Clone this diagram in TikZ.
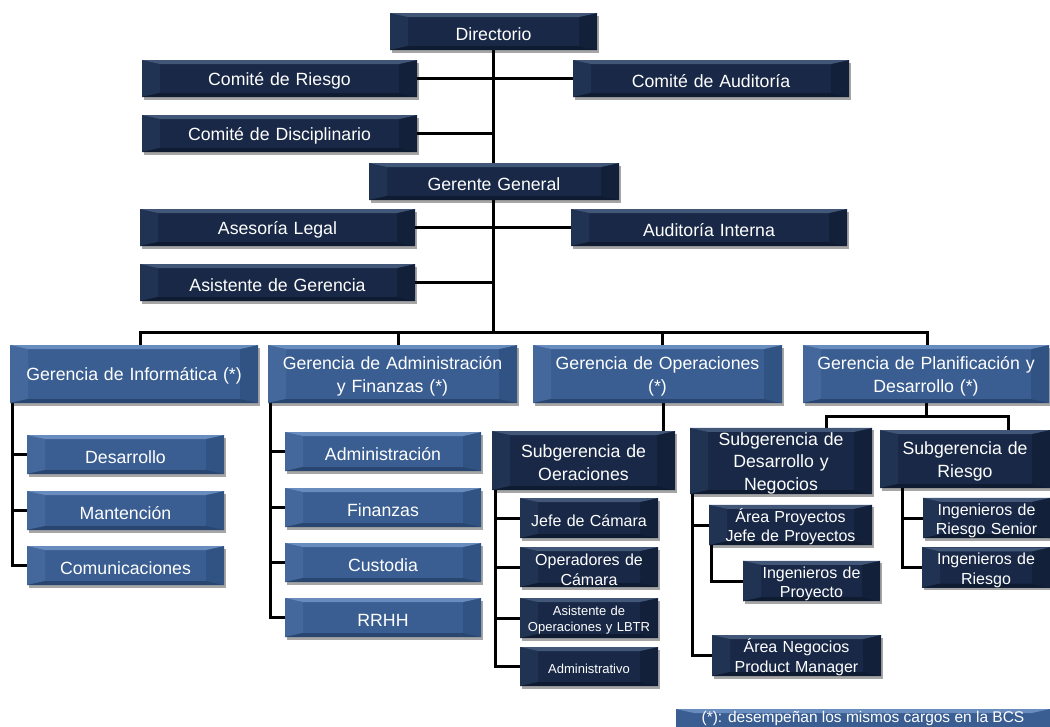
\documentclass[tikz,border=0pt]{standalone}
\usepackage{fontspec}
\setmainfont{Liberation Sans}
\usetikzlibrary{shadows}
\pgfdeclarelayer{background}
\pgfsetlayers{background,main}
\definecolor{navy}{RGB}{24,40,70}
\definecolor{navyT}{RGB}{66,86,120}
\definecolor{navyL}{RGB}{33,51,82}
\definecolor{navyR}{RGB}{18,32,57}
\definecolor{navyB}{RGB}{15,27,48}
\definecolor{mblue}{RGB}{58,94,145}
\definecolor{mblueT}{RGB}{104,140,190}
\definecolor{mblueL}{RGB}{68,104,155}
\definecolor{mblueR}{RGB}{49,83,131}
\definecolor{mblueB}{RGB}{40,70,112}
\tikzset{
  bevel/.style n args={5}{fill=#1, path picture={
    \fill[#3] (path picture bounding box.north west) -- ([xshift=18pt,yshift=-4pt]path picture bounding box.north west)
       -- ([xshift=18pt,yshift=4pt]path picture bounding box.south west) -- (path picture bounding box.south west) -- cycle;
    \fill[#4] (path picture bounding box.north east) -- ([xshift=-18pt,yshift=-4pt]path picture bounding box.north east)
       -- ([xshift=-18pt,yshift=4pt]path picture bounding box.south east) -- (path picture bounding box.south east) -- cycle;
    \fill[#2] (path picture bounding box.north west) -- (path picture bounding box.north east)
       -- ([xshift=-18pt,yshift=-4pt]path picture bounding box.north east) -- ([xshift=18pt,yshift=-4pt]path picture bounding box.north west) -- cycle;
    \fill[#5] (path picture bounding box.south west) -- (path picture bounding box.south east)
       -- ([xshift=-18pt,yshift=4pt]path picture bounding box.south east) -- ([xshift=18pt,yshift=4pt]path picture bounding box.south west) -- cycle;
  }},
  boxbase/.style={inner sep=0pt, align=center, text=white, font=\fontsize{17.7}{22.5}\selectfont,
    text height=17.5pt,
    drop shadow={shadow xshift=1.5pt, shadow yshift=-2.5pt, opacity=0.35, fill=black}},
  dk/.style={boxbase, bevel={navy}{navyT}{navyL}{navyR}{navyB}},
  md/.style={boxbase, bevel={mblue}{mblueT}{mblueL}{mblueR}{mblueB}},
  sz/.style 2 args={minimum width=#1pt, minimum height=#2pt, text width=#1pt},
  subfont/.style={font=\fontsize{16}{19.5}\selectfont, text height=17.5pt},
  tinyfont/.style={font=\fontsize{13}{16}\selectfont, text height=14.5pt},
  conn/.style={draw=black, line width=3pt}
}
\begin{document}
\begin{tikzpicture}[x=1pt,y=-1pt]
\useasboundingbox (0,0) rectangle (1050,726);
% top levels
\node[dk, sz={207}{37}] (dir) at (493.5,31.5) {Directorio};
\node[dk, sz={275}{37}] (cr) at (279.5,78.5) {Comité de Riesgo};
\node[dk, sz={276}{37}] (ca) at (711,78.5) {Comité de Auditoría};
\node[dk, sz={275}{37}] (cd) at (279.5,133.5) {Comité de Disciplinario};
\node[dk, sz={250}{37}] (gg) at (494,181.5) {Gerente General};
\node[dk, sz={275}{37}] (al) at (277.5,227.5) {Asesoría Legal};
\node[dk, sz={276}{37}] (ai) at (709,227.5) {Auditoría Interna};
\node[dk, sz={275}{37}] (ag) at (277.5,282.5) {Asistente de Gerencia};
% gerencias
\node[md, sz={248}{58}] (gi) at (134,374) {Gerencia de Informática (*)};
\node[md, sz={249}{58}] (ga) at (392.5,374) {Gerencia de Administración\\y Finanzas (*)};
\node[md, sz={249}{58}] (go) at (657.5,374) {Gerencia de Operaciones\\(*)};
\node[md, sz={246}{58}] (gp) at (926,374) {Gerencia de Planificación y\\Desarrollo (*)};
% informatica
\node[md, sz={197}{39}] (d1) at (125.5,454.5) {Desarrollo};
\node[md, sz={197}{39}] (d2) at (125.5,510.5) {Mantención};
\node[md, sz={197}{39}] (d3) at (125.5,565.5) {Comunicaciones};
% administracion
\node[md, sz={196}{39}] (a1) at (383,451.5) {Administración};
\node[md, sz={196}{39}] (a2) at (383,507.5) {Finanzas};
\node[md, sz={196}{39}] (a3) at (383,562.5) {Custodia};
\node[md, sz={196}{39}] (a4) at (383,617.5) {RRHH};
% operaciones
\node[dk, sz={183}{59}] (so) at (583.5,460.5) {Subgerencia de\\Oeraciones};
\node[dk, subfont, sz={138}{40}] (o1) at (589,518) {Jefe de Cámara};
\node[dk, subfont, sz={138}{40}] (o2) at (589,567) {Operadores de\\Cámara};
\node[dk, tinyfont, sz={138}{40}] (o3) at (589,618) {Asistente de\\Operaciones y LBTR};
\node[dk, tinyfont, sz={138}{39}] (o4) at (589,666.5) {Administrativo};
% planificacion
\node[dk, sz={182}{60}] (sd) at (781,461) {Subgerencia de\\Desarrollo y\\Negocios};
\node[dk, sz={170}{58}] (sr) at (965,459) {Subgerencia de\\Riesgo};
\node[dk, subfont, sz={163}{40}] (p1) at (790.5,525) {Área Proyectos\\Jefe de Proyectos};
\node[dk, subfont, sz={137}{40}] (p2) at (811.5,581) {Ingenieros de\\Proyecto};
\node[dk, subfont, sz={169}{41}] (p3) at (796.5,655.5) {Área Negocios\\Product Manager};
\node[dk, subfont, sz={127}{40}] (r1) at (986.5,518) {Ingenieros de\\Riesgo Senior};
\node[dk, subfont, sz={128}{39}] (r2) at (986,567.5) {Ingenieros de\\Riesgo};
% footnote
\node[inner sep=0pt, text=white, font=\fontsize{15.5}{17}\selectfont, minimum width=374pt, minimum height=19pt,
  bevel={mblue}{mblueT}{mblue}{mblue}{mblue}] (fn) at (863,718.5) {(*): desempeñan los mismos cargos en la BCS};
% connectors
\begin{pgfonlayer}{background}
\coordinate (bus) at (493.5,332);
\draw[conn] (dir.south) -- (bus);
\draw[conn] (cr.east) -- (cr.east -| bus);
\draw[conn] (ca.west) -- (ca.west -| bus);
\draw[conn] (cd.east) -- (cd.east -| bus);
\draw[conn] (al.east) -- (al.east -| bus);
\draw[conn] (ai.west) -- (ai.west -| bus);
\draw[conn] (ag.east) -- (ag.east -| bus);
\draw[conn] ([xshift=6pt]gi.north) |- (bus) -| ([xshift=1pt]gp.north);
\draw[conn] ([xshift=5.5pt]ga.north) -- ([xshift=5.5pt]ga.north |- bus);
\draw[conn] ([xshift=5pt]go.north) -- ([xshift=5pt]go.north |- bus);
\coordinate (giL) at ([xshift=3pt]gi.south west);
\draw[conn] (giL) |- (d3.west);
\draw[conn] (d1.west) -- (d1.west -| giL);
\draw[conn] (d2.west) -- (d2.west -| giL);
\coordinate (gaL) at ([xshift=3pt]ga.south west);
\draw[conn] (gaL) |- (a4.west);
\draw[conn] (a1.west) -- (a1.west -| gaL);
\draw[conn] (a2.west) -- (a2.west -| gaL);
\draw[conn] (a3.west) -- (a3.west -| gaL);
\draw[conn] ([xshift=5.5pt]go.south) -- ([xshift=5.5pt]go.south |- so.north);
\coordinate (soL) at ([xshift=4pt]so.south west);
\draw[conn] (soL) |- (o4.west);
\draw[conn] (o1.west) -- (o1.west -| soL);
\draw[conn] (o2.west) -- (o2.west -| soL);
\draw[conn] (o3.west) -- (o3.west -| soL);
\coordinate (pb) at ([yshift=-13pt]gp.south);
\draw[conn] (gp.south) -- (pb);
\draw[conn] ([xshift=45pt]sd.north) |- (pb) -| ([xshift=43pt]sr.north);
\coordinate (sdL) at ([xshift=3pt]sd.south west);
\draw[conn] (sdL) |- (p3.west);
\draw[conn] (p1.west) -- (p1.west -| sdL);
\draw[conn] ([xshift=3pt]p1.south west) |- (p2.west);
\coordinate (srL) at ([xshift=23pt]sr.south west);
\draw[conn] (srL) |- (r2.west);
\draw[conn] (r1.west) -- (r1.west -| srL);
\end{pgfonlayer}
\end{tikzpicture}
\end{document}
